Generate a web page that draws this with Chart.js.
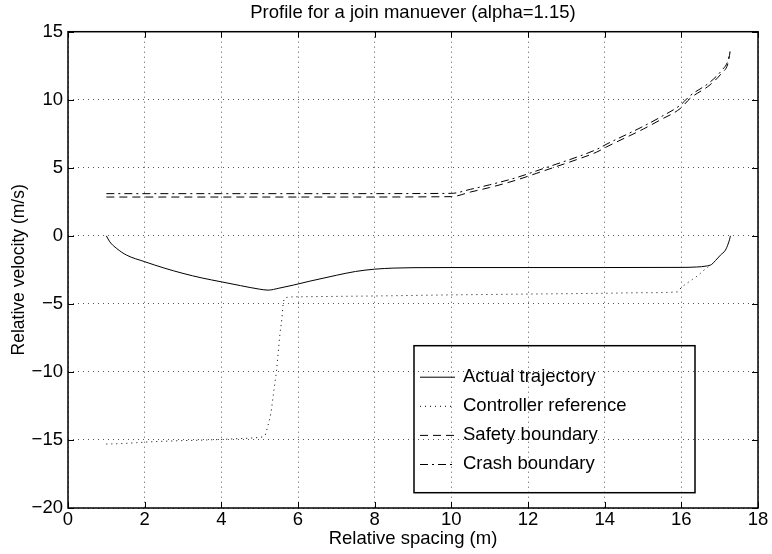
<!DOCTYPE html>
<html><head><meta charset="utf-8">
<script src="https://cdn.jsdelivr.net/npm/chart.js@4"></script>
<style>html,body{margin:0;padding:0;background:#fff}</style>
</head><body>
<canvas id="c" width="772" height="554"></canvas>
<script>
const xTicks = [0, 2, 4, 6, 8, 10, 12, 14, 16, 18];
const yTicks = [-20, -15, -10, -5, 0, 5, 10, 15];

const actualX = [1, 1.09, 1.27, 1.53, 2.0, 2.5, 3.0, 3.5, 4.0, 4.5, 5.0, 5.22, 5.5, 5.88, 6.31, 7.0, 7.5, 8.0, 8.5, 9, 10, 12, 14, 16, 16.4, 16.65, 16.79, 16.89, 17.02, 17.15, 17.22, 17.26, 17.28];
const actualY = [0, -0.44, -0.93, -1.42, -1.9, -2.36, -2.76, -3.1, -3.38, -3.66, -3.92, -3.99, -3.85, -3.62, -3.33, -2.9, -2.62, -2.45, -2.37, -2.34, -2.33, -2.33, -2.33, -2.32, -2.29, -2.22, -2.1, -1.82, -1.42, -1.05, -0.6, -0.25, 0];

const refX = [1, 1.44, 1.79, 2.14, 2.75, 3.62, 4.49, 5.01, 5.14, 5.2, 5.29, 5.36, 5.44, 5.53, 5.58, 5.62, 5.7, 6, 7, 8, 10, 12, 14, 15, 15.9, 16.0, 16.14, 16.29, 16.44, 16.57, 16.7, 16.79];
const refY = [-15.3, -15.26, -15.2, -15.14, -15.07, -15.0, -14.9, -14.8, -14.65, -14.1, -13.06, -11.6, -9.87, -7.2, -6.07, -4.85, -4.53, -4.48, -4.45, -4.42, -4.34, -4.28, -4.22, -4.18, -4.12, -3.8, -3.5, -3.2, -2.9, -2.57, -2.28, -2.1];

const safetyX = [1, 4, 7, 10, 10.5, 11, 11.7, 12.23, 12.75, 13.27, 13.79, 14.06, 15.01, 15.44, 15.97, 16.23, 16.75, 17.05, 17.22, 17.27];
const safetyY = [2.85, 2.85, 2.85, 2.88, 3.22, 3.55, 4.1, 4.6, 5.1, 5.6, 6.15, 6.55, 7.85, 8.5, 9.35, 10.1, 11.1, 11.95, 12.7, 13.5];
const crashX = [1, 4, 7, 10, 10.5, 11, 11.7, 12.23, 12.75, 13.27, 13.79, 14.06, 15.01, 15.44, 15.97, 16.23, 16.75, 17.05, 17.22, 17.27];
const crashY = [3.1, 3.1, 3.1, 3.12, 3.42, 3.75, 4.28, 4.78, 5.28, 5.78, 6.35, 6.75, 8.05, 8.7, 9.6, 10.3, 11.3, 12.15, 12.9, 13.55];

const seriesNames = ['Actual trajectory', 'Controller reference', 'Safety boundary', 'Crash boundary'];
const titleText = 'Profile for a join manuever (alpha=1.15)';
const xTitle = 'Relative spacing (m)';
const yTitle = 'Relative velocity (m/s)';

const FONT = '"Liberation Sans", Arial, Helvetica, sans-serif';
const FS = 18.5;
const pts = (xs, ys) => xs.map((x, i) => ({x, y: ys[i]}));
const fmt = v => (v < 0 ? '\u2212' + Math.abs(v) : String(v));

const dashes = [[], [1, 4], [8, 5], [8, 4, 2, 4]];
const data = [[actualX, actualY], [refX, refY], [safetyX, safetyY], [crashX, crashY]];

const datasets = data.map((d, i) => ({
  label: seriesNames[i],
  data: pts(d[0], d[1]),
  borderColor: '#000',
  borderWidth: 1,
  borderDash: dashes[i],
  pointRadius: 0,
  showLine: true,
  fill: false,
  cubicInterpolationMode: 'monotone'
}));

const framePlugin = {
  id: 'frame',
  afterDraw(chart) {
    const {ctx, chartArea: a, scales} = chart;
    ctx.save();
    ctx.strokeStyle = '#000';
    ctx.lineWidth = 1;
    ctx.setLineDash([]);
    const tl = 6;
    ctx.beginPath();
    xTicks.forEach(t => {
      const px = Math.round(scales.x.getPixelForValue(t)) + 0.5;
      ctx.moveTo(px, a.bottom); ctx.lineTo(px, a.bottom - tl);
      ctx.moveTo(px, a.top); ctx.lineTo(px, a.top + tl);
    });
    yTicks.forEach(t => {
      const py = Math.round(scales.y.getPixelForValue(t)) + 0.5;
      ctx.moveTo(a.left, py); ctx.lineTo(a.left + tl, py);
      ctx.moveTo(a.right, py); ctx.lineTo(a.right - tl, py);
    });
    ctx.stroke();
    ctx.lineWidth = 1.5;
    ctx.strokeRect(a.left, a.top, a.right - a.left, a.bottom - a.top);
    const lx = a.left + 346, ly = a.top + 314, lw = 281, lh = 147;
    ctx.strokeRect(lx, ly, lw, lh);
    ctx.font = FS + 'px ' + FONT;
    ctx.fillStyle = '#000';
    ctx.textBaseline = 'middle';
    chart.data.datasets.forEach((ds, i) => {
      const y = ly + 31 + i * 29.1;
      ctx.lineWidth = 1;
      ctx.setLineDash(ds.borderDash || []);
      ctx.beginPath();
      ctx.moveTo(lx + 6, y + 0.5); ctx.lineTo(lx + 41, y + 0.5);
      ctx.stroke();
      ctx.setLineDash([]);
      ctx.fillText(ds.label, lx + 49, y);
    });
    ctx.restore();
  }
};

new Chart(document.getElementById('c'), {
  type: 'scatter',
  data: {datasets},
  options: {
    responsive: false,
    animation: false,
    devicePixelRatio: 1,
    layout: {padding: {left: 0, right: 14, top: 0, bottom: 0}},
    plugins: {
      legend: {display: false},
      tooltip: {enabled: false},
      title: {
        display: true, text: titleText, fullSize: false,
        color: '#000', font: {family: FONT, size: FS, weight: 'normal'},
        padding: {top: 2, bottom: 7.5}
      }
    },
    scales: {
      x: {
        type: 'linear', min: 0, max: 18,
        afterBuildTicks: s => { s.ticks = xTicks.map(v => ({value: v})); },
        afterFit: s => { s.height = 46; },
        ticks: {color: '#000', font: {family: FONT, size: FS}, padding: 1, callback: v => fmt(v), maxRotation: 0, autoSkip: false},
        grid: {color: '#555', lineWidth: 1, drawTicks: false},
        border: {display: false, dash: [1, 4]},
        title: {display: true, text: xTitle, color: '#000', font: {family: FONT, size: FS}, padding: {top: 0, bottom: 4}}
      },
      y: {
        type: 'linear', min: -20, max: 15,
        afterBuildTicks: s => { s.ticks = yTicks.map(v => ({value: v})); },
        afterFit: s => { s.width = 68; },
        ticks: {color: '#000', font: {family: FONT, size: FS}, padding: 5, callback: v => fmt(v), autoSkip: false},
        grid: {color: '#555', lineWidth: 1, drawTicks: false},
        border: {display: false, dash: [1, 4]},
        title: {display: true, text: yTitle, color: '#000', font: {family: FONT, size: 17.5}, padding: {top: 9, bottom: 0}}
      }
    }
  },
  plugins: [framePlugin]
});
</script>
</body></html>
